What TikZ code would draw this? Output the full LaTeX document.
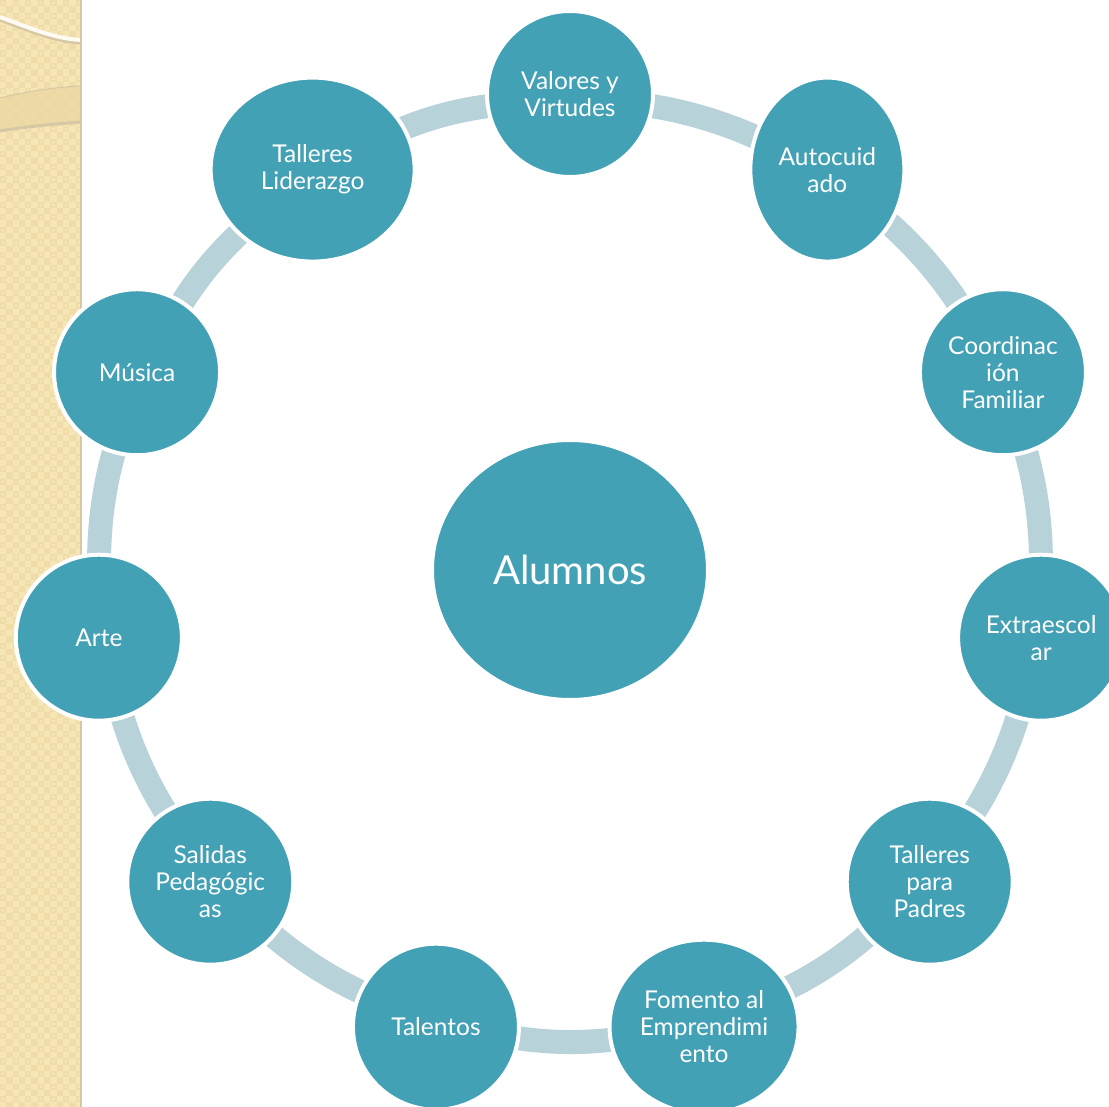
\documentclass[tikz,border=0pt]{standalone}
\usepackage{fontspec}
\setmainfont{Lato}
\usetikzlibrary{shapes.geometric}
\pgfdeclarelayer{bg}
\pgfsetlayers{bg,main}

\definecolor{tealfill}{RGB}{67,161,181}
\definecolor{ringline}{RGB}{184,210,218}
\definecolor{stripbase}{RGB}{246,230,182}
\definecolor{stripdark}{RGB}{239,220,168}
\definecolor{stripband}{RGB}{236,215,162}
\definecolor{stripshade}{RGB}{214,200,164}

\tikzset{
  bub/.style={circle, fill=tealfill, draw=white, line width=4pt,
    minimum size=166pt, inner sep=0pt, text=white, align=center,
    font=\fontsize{24.5}{27}\selectfont},
  ebub/.style={bub, ellipse},
  ring/.style={draw=ringline, line width=24pt, looseness=0.8,
    shorten <=-6pt, shorten >=-6pt}
}

\begin{document}
\begin{tikzpicture}[x=1pt,y=1pt]
        \useasboundingbox (-570,-537) rectangle (539,570);

        % centre and the eleven bubbles round it
        \node [ebub,minimum width=276pt,minimum height=260pt,font=\fontsize{40}{44}\selectfont] (alumnos) at (0,0) {Alumnos};
        \node [bub] (valores) at (90:476) {Valores y\\Virtudes};
        \node [ebub,minimum width=154pt,minimum height=184pt] (autocuidado) at (57.27:476) {Autocuid\\ado};
        \node [bub] (coordinacion) at (24.55:476) {Coordinac\\ión\\Familiar};
        \node [bub] (extraescolar) at (-8.18:476) {Extraescol\\ar};
        \node [bub] (padres) at (-40.91:476) {Talleres\\para\\Padres};
        \node [ebub,minimum width=189pt,minimum height=174pt] (fomento) at (-73.64:476) {Fomento al\\Emprendimi\\ento};
        \node [bub] (talentos) at (-106.36:476) {Talentos};
        \node [bub] (salidas) at (-139.09:476) {Salidas\\Pedagógic\\as};
        \node [bub] (arte) at (-171.82:476) {Arte};
        \node [bub] (musica) at (155.45:476) {Música};
        \node [ebub,minimum width=204pt,minimum height=184pt] (liderazgo) at (122.73:476) {Talleres\\Liderazgo};

        \begin{pgfonlayer}{bg}
        % left strip
        \fill [stripbase] (-570,-537) rectangle (-488,570);
        \begin{scope}
        \clip (-570,-537) rectangle (-488,570);
        \foreach \i in {0,...,6}
          \foreach \j in {0,...,88} {
            \fill [stripdark] (-570+\i*12.6,570-\j*12.6) rectangle +(6.3,-6.3);
            \fill [stripdark] (-563.7+\i*12.6,563.7-\j*12.6) rectangle +(6.3,-6.3);
            \fill [stripbase] (-568+\i*12.6,568-\j*12.6) rectangle +(2.3,-2.3);
          }
        \fill [stripband,opacity=0.8] (-570,472) .. controls (-540,479) and (-515,483) .. (-488,484)
          -- (-488,449) .. controls (-515,447) and (-540,445) .. (-570,440) -- cycle;
        \draw [stripshade,line width=1pt] (-570,472) .. controls (-540,479) and (-515,483) .. (-488,484);
        \draw [stripshade,line width=3pt] (-570,439) .. controls (-540,444) and (-515,446) .. (-488,448);
        \draw [stripshade,line width=3pt] (-570,550) .. controls (-540,539) and (-515,528) .. (-488,527);
        \draw [white!85!stripbase,line width=4pt] (-570,553) .. controls (-540,542) and (-515,531) .. (-488,530);
        \end{scope}
        \draw [stripshade,line width=2pt] (-489,-537) -- (-489,570);

        % ring pieces
        \draw [ring] (valores) to [bend left=8] (autocuidado);
        \draw [ring] (autocuidado) to [bend left=8] (coordinacion);
        \draw [ring] (coordinacion) to [bend left=8] (extraescolar);
        \draw [ring] (extraescolar) to [bend left=8] (padres);
        \draw [ring] (padres) to [bend left=8] (fomento);
        \draw [ring] (fomento) to [bend left=8] (talentos);
        \draw [ring] (talentos) to [bend left=8] (salidas);
        \draw [ring] (salidas) to [bend left=8] (arte);
        \draw [ring] (arte) to [bend left=8] (musica);
        \draw [ring] (musica) to [bend left=8] (liderazgo);
        \draw [ring] (liderazgo) to [bend left=8] (valores);
        \end{pgfonlayer}
    \end{tikzpicture}
\end{document}
